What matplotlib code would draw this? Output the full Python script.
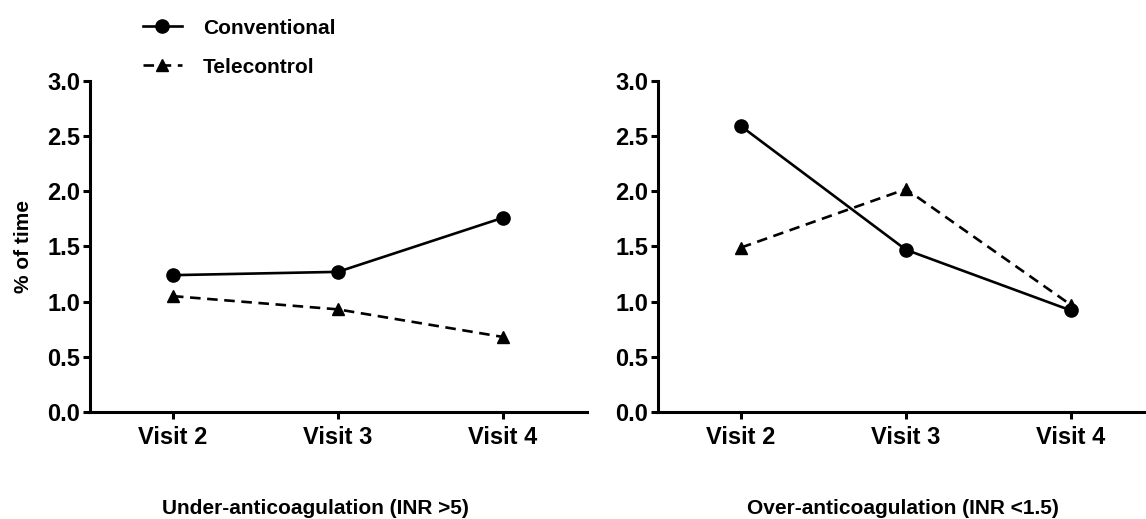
import matplotlib.pyplot as plt

plt.rcParams["font.family"] = ["Liberation Sans", "DejaVu Sans"]
plt.rcParams["font.weight"] = "bold"

visits = ["Visit 2", "Visit 3", "Visit 4"]

under_conv = [1.24, 1.27, 1.76]
under_tele = [1.05, 0.93, 0.68]
over_conv = [2.59, 1.47, 0.92]
over_tele = [1.49, 2.02, 0.97]

titles = ["Under-anticoagulation (INR >5)", "Over-anticoagulation (INR <1.5)"]

fig = plt.figure(figsize=(11.46, 5.19), dpi=100)
ax_l = fig.add_axes([0.0785, 0.2062, 0.4337, 0.6378])
ax_r = fig.add_axes([0.5742, 0.2062, 0.4258, 0.6378])

x = list(range(len(visits)))
for ax, conv, tele, xmax in [(ax_l, under_conv, under_tele, 2.51),
                             (ax_r, over_conv, over_tele, 2.455)]:
    ax.plot(x, conv, color="black", linestyle="-", linewidth=1.9,
            marker="o", markersize=9.5, label="Conventional", clip_on=False)
    ax.plot(x, tele, color="black", linestyle=(0, (4, 2.5)), linewidth=1.9,
            marker="^", markersize=9, label="Telecontrol", clip_on=False)
    ax.set_xlim(-0.503, xmax)
    ax.set_ylim(0, 3.0)
    ax.set_yticks([0.0, 0.5, 1.0, 1.5, 2.0, 2.5, 3.0])
    ax.set_yticklabels([f"{v:.1f}" for v in ax.get_yticks()])
    ax.set_xticks(x)
    ax.set_xticklabels(visits)
    for s in ["top", "right"]:
        ax.spines[s].set_visible(False)
    for s in ["left", "bottom"]:
        ax.spines[s].set_linewidth(2.2)
    ax.tick_params(axis="y", direction="out", width=2.2, length=5,
                   labelsize=17, pad=2)
    ax.tick_params(axis="x", direction="out", width=2.2, length=5,
                   labelsize=17, pad=5)

ax_l.set_ylabel("% of time", fontsize=15, fontweight="bold", labelpad=10)

# panel captions sit well below the tick labels
fig.text(0.275, 0.021, titles[0], ha="center", va="center",
         fontsize=15, fontweight="bold")
fig.text(0.788, 0.021, titles[1], ha="center", va="center",
         fontsize=15, fontweight="bold")

handles, labels = ax_l.get_legend_handles_labels()
fig.legend(handles, labels, loc="upper left", bbox_to_anchor=(0.108, 1.0),
           frameon=False, handlelength=1.9, labelspacing=0.95,
           handletextpad=1.0, prop={"weight": "bold", "size": 15})

fig.savefig("out.png", dpi=100)
